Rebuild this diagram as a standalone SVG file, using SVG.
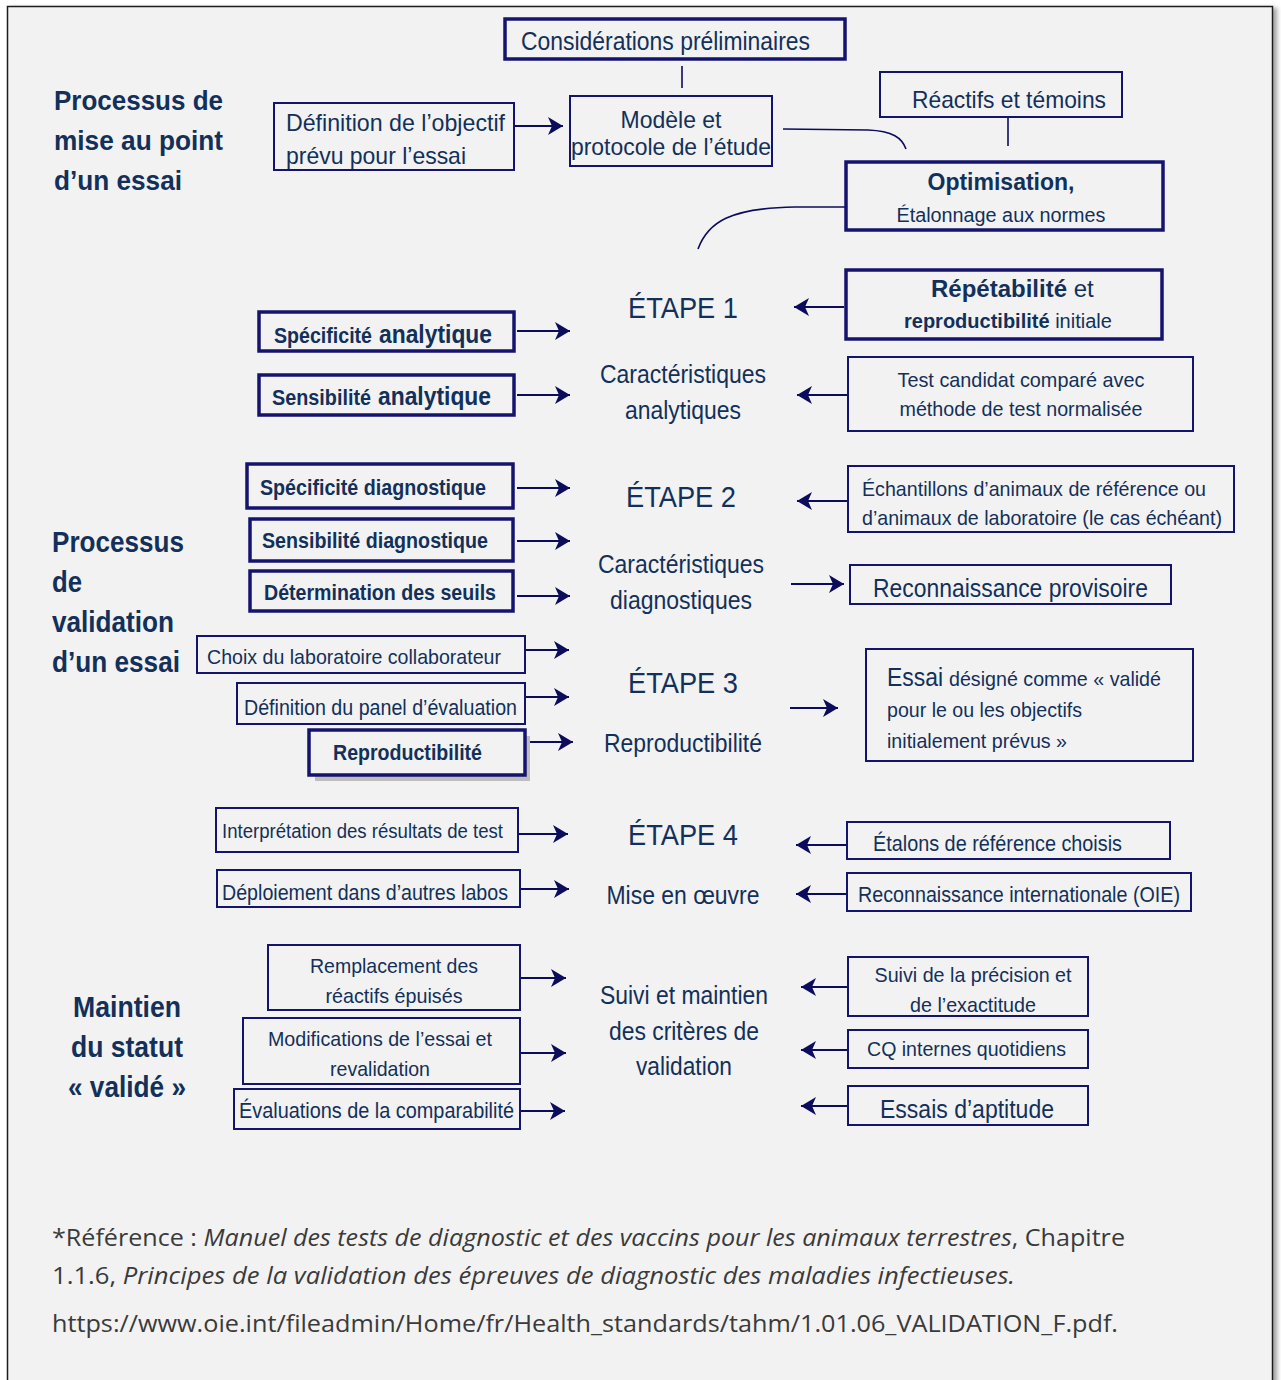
<svg xmlns="http://www.w3.org/2000/svg" width="1281" height="1380" viewBox="0 0 1281 1380">
<style>
.t{font-family:"Liberation Sans Narrow","Liberation Sans",Arial,sans-serif;fill:#12305a}
.b{font-weight:bold}
.box{fill:#f2f2f2;stroke:#14146e;stroke-width:2}
.boxk{fill:#f2f2f2;stroke:#14146e;stroke-width:3.5}
.ar{stroke:#0c0c5c;stroke-width:2;fill:none;marker-end:url(#ah)}
.ln{stroke:#0c0c5c;stroke-width:1.6;fill:none}
.f{font-family:"Open Sans","Liberation Sans",sans-serif;fill:#3a3a3a;font-size:23px}
</style>
<defs>
<marker id="ah" markerUnits="userSpaceOnUse" markerWidth="18" markerHeight="20" refX="15" refY="9" orient="auto">
<path d="M0,0 L15,9 L0,18 L4,9 z" fill="#0c0c5c"/>
</marker>
<filter id="sh" x="-5%" y="-5%" width="110%" height="110%"><feDropShadow dx="4" dy="2" stdDeviation="2" flood-color="#000" flood-opacity="0.35"/></filter>
</defs>
<rect width="1281" height="1380" fill="#ffffff"/>
<rect x="7.5" y="6.5" width="1265" height="1400" fill="#f2f2f2" stroke="#1e1e1e" stroke-width="1.5" filter="url(#sh)"/>

<!-- section titles -->
<g id="title-mise-au-point">
<text class="t b" font-size="28" x="54" y="110" textLength="169" lengthAdjust="spacingAndGlyphs">Processus de</text>
<text class="t b" font-size="28" x="54" y="150" textLength="169" lengthAdjust="spacingAndGlyphs">mise au point</text>
<text class="t b" font-size="28" x="54" y="190" textLength="128" lengthAdjust="spacingAndGlyphs">d’un essai</text>
</g>
<g id="title-validation">
<text class="t b" font-size="29" x="52" y="552" textLength="132" lengthAdjust="spacingAndGlyphs">Processus</text>
<text class="t b" font-size="29" x="52" y="592" textLength="30" lengthAdjust="spacingAndGlyphs">de</text>
<text class="t b" font-size="29" x="52" y="632" textLength="122" lengthAdjust="spacingAndGlyphs">validation</text>
<text class="t b" font-size="29" x="52" y="672" textLength="128" lengthAdjust="spacingAndGlyphs">d’un essai</text>
</g>
<g id="title-maintien">
<text class="t b" font-size="29" x="127" y="1017" text-anchor="middle" textLength="108" lengthAdjust="spacingAndGlyphs">Maintien</text>
<text class="t b" font-size="29" x="127" y="1057" text-anchor="middle" textLength="112" lengthAdjust="spacingAndGlyphs">du statut</text>
<text class="t b" font-size="29" x="127" y="1097" text-anchor="middle" textLength="118" lengthAdjust="spacingAndGlyphs">« validé »</text>
</g>

<!-- connectors -->
<g id="connectors">
<line class="ln" x1="682" y1="66" x2="682" y2="88"/>
<line class="ln" x1="1008" y1="118" x2="1008" y2="146"/>
<path class="ln" d="M783,129 L868,130 C893,131 902,138 906,149"/>
<path class="ln" d="M846,207 L795,207 C730,208 708,222 698,249"/>
<line class="ar" x1="514" y1="126" x2="563" y2="126"/>
<line class="ar" x1="517" y1="331" x2="570" y2="331"/>
<line class="ar" x1="517" y1="395" x2="570" y2="395"/>
<line class="ar" x1="844" y1="307" x2="794" y2="307"/>
<line class="ar" x1="847" y1="395" x2="797" y2="395"/>
<line class="ar" x1="517" y1="488" x2="570" y2="488"/>
<line class="ar" x1="517" y1="541" x2="570" y2="541"/>
<line class="ar" x1="517" y1="596" x2="570" y2="596"/>
<line class="ar" x1="847" y1="501" x2="797" y2="501"/>
<line class="ar" x1="791" y1="584" x2="844" y2="584"/>
<line class="ar" x1="525" y1="650" x2="569" y2="650"/>
<line class="ar" x1="525" y1="697" x2="569" y2="697"/>
<line class="ar" x1="527" y1="742" x2="573" y2="742"/>
<line class="ar" x1="790" y1="708" x2="838" y2="708"/>
<line class="ar" x1="518" y1="834" x2="568" y2="834"/>
<line class="ar" x1="520" y1="889" x2="569" y2="889"/>
<line class="ar" x1="847" y1="845" x2="796" y2="845"/>
<line class="ar" x1="847" y1="894" x2="796" y2="894"/>
<line class="ar" x1="520" y1="978" x2="566" y2="978"/>
<line class="ar" x1="520" y1="1053" x2="566" y2="1053"/>
<line class="ar" x1="520" y1="1111" x2="565" y2="1111"/>
<line class="ar" x1="848" y1="987" x2="801" y2="987"/>
<line class="ar" x1="848" y1="1050" x2="801" y2="1050"/>
<line class="ar" x1="848" y1="1106" x2="801" y2="1106"/>
</g>

<!-- top nodes -->
<g id="n-considerations">
<rect class="boxk" x="505" y="19" width="340" height="40"/>
<text class="t" font-size="25" x="521" y="50" textLength="289" lengthAdjust="spacingAndGlyphs">Considérations préliminaires</text>
</g>
<g id="n-definition-objectif">
<rect class="box" x="274" y="103" width="240" height="67"/>
<text class="t" font-size="24" x="286" y="131" textLength="219" lengthAdjust="spacingAndGlyphs">Définition de l’objectif</text>
<text class="t" font-size="24" x="286" y="164" textLength="180" lengthAdjust="spacingAndGlyphs">prévu pour l’essai</text>
</g>
<g id="n-modele">
<rect class="box" x="570" y="96" width="202" height="70"/>
<text class="t" font-size="24" x="671" y="128" text-anchor="middle" textLength="101" lengthAdjust="spacingAndGlyphs">Modèle et</text>
<text class="t" font-size="24" x="671" y="155" text-anchor="middle" textLength="200" lengthAdjust="spacingAndGlyphs">protocole de l’étude</text>
</g>
<g id="n-reactifs">
<rect class="box" x="880" y="72" width="242" height="45"/>
<text class="t" font-size="24" x="912" y="108" textLength="194" lengthAdjust="spacingAndGlyphs">Réactifs et témoins</text>
</g>
<g id="n-optimisation">
<rect class="boxk" x="846" y="162" width="317" height="68"/>
<text class="t b" font-size="24" x="1001" y="190" text-anchor="middle" textLength="147" lengthAdjust="spacingAndGlyphs">Optimisation,</text>
<text class="t" font-size="20" x="1001" y="222" text-anchor="middle" textLength="209" lengthAdjust="spacingAndGlyphs">Étalonnage aux normes</text>
</g>

<!-- central stage labels -->
<g id="n-etape1">
<text class="t" font-size="30" x="683" y="318" text-anchor="middle" textLength="110" lengthAdjust="spacingAndGlyphs">ÉTAPE 1</text>
<text class="t" font-size="26" x="683" y="383" text-anchor="middle" textLength="166" lengthAdjust="spacingAndGlyphs">Caractéristiques</text>
<text class="t" font-size="26" x="683" y="419" text-anchor="middle" textLength="116" lengthAdjust="spacingAndGlyphs">analytiques</text>
</g>
<g id="n-etape2">
<text class="t" font-size="30" x="681" y="507" text-anchor="middle" textLength="110" lengthAdjust="spacingAndGlyphs">ÉTAPE 2</text>
<text class="t" font-size="26" x="681" y="573" text-anchor="middle" textLength="166" lengthAdjust="spacingAndGlyphs">Caractéristiques</text>
<text class="t" font-size="26" x="681" y="609" text-anchor="middle" textLength="142" lengthAdjust="spacingAndGlyphs">diagnostiques</text>
</g>
<g id="n-etape3">
<text class="t" font-size="30" x="683" y="693" text-anchor="middle" textLength="110" lengthAdjust="spacingAndGlyphs">ÉTAPE 3</text>
<text class="t" font-size="26" x="683" y="752" text-anchor="middle" textLength="158" lengthAdjust="spacingAndGlyphs">Reproductibilité</text>
</g>
<g id="n-etape4">
<text class="t" font-size="30" x="683" y="845" text-anchor="middle" textLength="110" lengthAdjust="spacingAndGlyphs">ÉTAPE 4</text>
<text class="t" font-size="26" x="683" y="904" text-anchor="middle" textLength="153" lengthAdjust="spacingAndGlyphs">Mise en œuvre</text>
</g>
<g id="n-suivi-maintien">
<text class="t" font-size="26" x="684" y="1004" text-anchor="middle" textLength="168" lengthAdjust="spacingAndGlyphs">Suivi et maintien</text>
<text class="t" font-size="26" x="684" y="1040" text-anchor="middle" textLength="150" lengthAdjust="spacingAndGlyphs">des critères de</text>
<text class="t" font-size="26" x="684" y="1075" text-anchor="middle" textLength="96" lengthAdjust="spacingAndGlyphs">validation</text>
</g>

<!-- left nodes -->
<g id="n-specificite-analytique">
<rect class="boxk" x="259" y="312" width="255" height="39"/>
<text class="t b" font-size="22" x="274" y="343" textLength="98" lengthAdjust="spacingAndGlyphs">Spécificité</text>
<text class="t b" font-size="26" x="379" y="343" textLength="113" lengthAdjust="spacingAndGlyphs">analytique</text>
</g>
<g id="n-sensibilite-analytique">
<rect class="boxk" x="259" y="375" width="255" height="40"/>
<text class="t b" font-size="22" x="272" y="405" textLength="99" lengthAdjust="spacingAndGlyphs">Sensibilité</text>
<text class="t b" font-size="26" x="378" y="405" textLength="113" lengthAdjust="spacingAndGlyphs">analytique</text>
</g>
<g id="n-specificite-diagnostique">
<rect class="boxk" x="247" y="464" width="266" height="44"/>
<text class="t b" font-size="22" x="260" y="495" textLength="226" lengthAdjust="spacingAndGlyphs">Spécificité diagnostique</text>
</g>
<g id="n-sensibilite-diagnostique">
<rect class="boxk" x="250" y="519" width="263" height="42"/>
<text class="t b" font-size="22" x="262" y="548" textLength="226" lengthAdjust="spacingAndGlyphs">Sensibilité diagnostique</text>
</g>
<g id="n-seuils">
<rect class="boxk" x="250" y="571" width="263" height="40"/>
<text class="t b" font-size="22" x="264" y="600" textLength="232" lengthAdjust="spacingAndGlyphs">Détermination des seuils</text>
</g>
<g id="n-choix-labo">
<rect class="box" x="197" y="636" width="328" height="37"/>
<text class="t" font-size="21" x="207" y="664" textLength="294" lengthAdjust="spacingAndGlyphs">Choix du laboratoire collaborateur</text>
</g>
<g id="n-panel">
<rect class="box" x="237" y="683" width="288" height="41"/>
<text class="t" font-size="22" x="244" y="715" textLength="273" lengthAdjust="spacingAndGlyphs">Définition du panel d’évaluation</text>
</g>
<g id="n-reproductibilite">
<rect x="315" y="736" width="215" height="45" fill="#bdbdbd"/>
<rect class="boxk" x="309" y="730" width="216" height="45"/>
<text class="t b" font-size="22" x="333" y="760" textLength="149" lengthAdjust="spacingAndGlyphs">Reproductibilité</text>
</g>
<g id="n-interpretation">
<rect class="box" x="216" y="808" width="302" height="44"/>
<text class="t" font-size="20" x="222" y="838" textLength="281" lengthAdjust="spacingAndGlyphs">Interprétation des résultats de test</text>
</g>
<g id="n-deploiement">
<rect class="box" x="217" y="870" width="303" height="37"/>
<text class="t" font-size="22" x="222" y="900" textLength="286" lengthAdjust="spacingAndGlyphs">Déploiement dans d’autres labos</text>
</g>
<g id="n-remplacement">
<rect class="box" x="268" y="945" width="252" height="65"/>
<text class="t" font-size="21" x="394" y="973" text-anchor="middle" textLength="168" lengthAdjust="spacingAndGlyphs">Remplacement des</text>
<text class="t" font-size="21" x="394" y="1003" text-anchor="middle" textLength="137" lengthAdjust="spacingAndGlyphs">réactifs épuisés</text>
</g>
<g id="n-modifications">
<rect class="box" x="243" y="1018" width="277" height="66"/>
<text class="t" font-size="21" x="380" y="1046" text-anchor="middle" textLength="224" lengthAdjust="spacingAndGlyphs">Modifications de l’essai et</text>
<text class="t" font-size="21" x="380" y="1076" text-anchor="middle" textLength="100" lengthAdjust="spacingAndGlyphs">revalidation</text>
</g>
<g id="n-comparabilite">
<rect class="box" x="234" y="1089" width="286" height="40"/>
<text class="t" font-size="22" x="239" y="1118" textLength="275" lengthAdjust="spacingAndGlyphs">Évaluations de la comparabilité</text>
</g>

<!-- right nodes -->
<g id="n-repetabilite">
<rect class="boxk" x="846" y="270" width="316" height="69"/>
<text class="t" font-size="24" x="931" y="297"><tspan class="b">Répétabilité</tspan> et</text>
<text class="t" font-size="20" x="904" y="328"><tspan class="b">reproductibilité</tspan> initiale</text>
</g>
<g id="n-test-candidat">
<rect class="box" x="848" y="357" width="345" height="74"/>
<text class="t" font-size="21" x="1021" y="387" text-anchor="middle" textLength="247" lengthAdjust="spacingAndGlyphs">Test candidat comparé avec</text>
<text class="t" font-size="21" x="1021" y="416" text-anchor="middle" textLength="243" lengthAdjust="spacingAndGlyphs">méthode de test normalisée</text>
</g>
<g id="n-echantillons">
<rect class="box" x="848" y="466" width="386" height="66"/>
<text class="t" font-size="21" x="862" y="496" textLength="344" lengthAdjust="spacingAndGlyphs">Échantillons d’animaux de référence ou</text>
<text class="t" font-size="21" x="862" y="525" textLength="360" lengthAdjust="spacingAndGlyphs">d’animaux de laboratoire (le cas échéant)</text>
</g>
<g id="n-reconnaissance-provisoire">
<rect class="box" x="850" y="565" width="321" height="39"/>
<text class="t" font-size="25" x="873" y="597" textLength="275" lengthAdjust="spacingAndGlyphs">Reconnaissance provisoire</text>
</g>
<g id="n-essai-valide">
<rect class="box" x="866" y="649" width="327" height="112"/>
<text class="t" font-size="26" x="887" y="686" textLength="56" lengthAdjust="spacingAndGlyphs">Essai</text>
<text class="t" font-size="21" x="949" y="686" textLength="212" lengthAdjust="spacingAndGlyphs">désigné comme « validé</text>
<text class="t" font-size="21" x="887" y="717" textLength="195" lengthAdjust="spacingAndGlyphs">pour le ou les objectifs</text>
<text class="t" font-size="21" x="887" y="748" textLength="180" lengthAdjust="spacingAndGlyphs">initialement prévus »</text>
</g>
<g id="n-etalons">
<rect class="box" x="847" y="822" width="323" height="37"/>
<text class="t" font-size="22" x="873" y="851" textLength="249" lengthAdjust="spacingAndGlyphs">Étalons de référence choisis</text>
</g>
<g id="n-reconnaissance-internationale">
<rect class="box" x="847" y="873" width="344" height="38"/>
<text class="t" font-size="22" x="858" y="902" textLength="322" lengthAdjust="spacingAndGlyphs">Reconnaissance internationale (OIE)</text>
</g>
<g id="n-suivi-precision">
<rect class="box" x="848" y="957" width="240" height="59"/>
<text class="t" font-size="21" x="973" y="982" text-anchor="middle" textLength="197" lengthAdjust="spacingAndGlyphs">Suivi de la précision et</text>
<text class="t" font-size="21" x="973" y="1012" text-anchor="middle" textLength="126" lengthAdjust="spacingAndGlyphs">de l’exactitude</text>
</g>
<g id="n-cq">
<rect class="box" x="848" y="1030" width="240" height="38"/>
<text class="t" font-size="21" x="867" y="1056" textLength="199" lengthAdjust="spacingAndGlyphs">CQ internes quotidiens</text>
</g>
<g id="n-aptitude">
<rect class="box" x="848" y="1086" width="240" height="39"/>
<text class="t" font-size="25" x="880" y="1118" textLength="174" lengthAdjust="spacingAndGlyphs">Essais d’aptitude</text>
</g>

<!-- footer -->
<g id="footer">
<text class="f" x="52" y="1246" textLength="1073" lengthAdjust="spacingAndGlyphs">*Référence : <tspan font-style="italic">Manuel des tests de diagnostic et des vaccins pour les animaux terrestres</tspan>, Chapitre</text>
<text class="f" x="52" y="1284" textLength="963" lengthAdjust="spacingAndGlyphs">1.1.6, <tspan font-style="italic">Principes de la validation des épreuves de diagnostic des maladies infectieuses.</tspan></text>
<text class="f" x="52" y="1332" textLength="1066" lengthAdjust="spacingAndGlyphs">https://www.oie.int/fileadmin/Home/fr/Health_standards/tahm/1.01.06_VALIDATION_F.pdf.</text>
</g>
</svg>
